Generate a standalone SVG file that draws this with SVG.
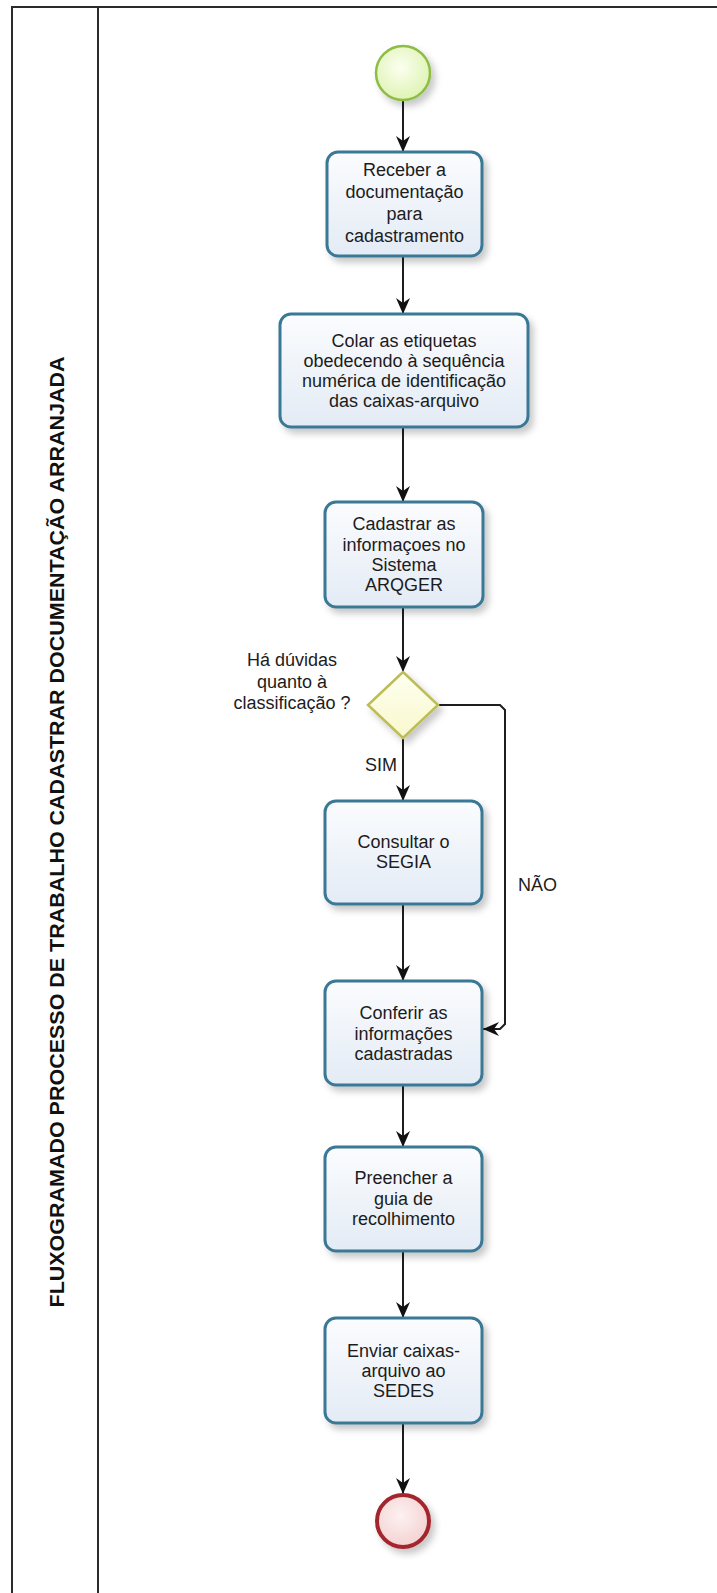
<svg xmlns="http://www.w3.org/2000/svg" width="717" height="1593" viewBox="0 0 717 1593">
  <defs>
    <style>
      .frame { fill: none; stroke: #2b2b2b; stroke-width: 2; }
      .task { stroke: #3a7895; stroke-width: 3; filter: url(#shadow); }
      .lbl { font-family: "Liberation Sans", Arial, sans-serif; font-size: 18px; fill: #1c1c1c; text-anchor: middle; }
      .note { font-family: "Liberation Sans", Arial, sans-serif; font-size: 18px; fill: #1c1c1c; }
      .title { font-family: "Liberation Sans", Arial, sans-serif; font-size: 20px; font-weight: bold; fill: #111; text-anchor: middle; }
      .flow { fill: none; stroke: #1e1e1e; stroke-width: 2; marker-end: url(#arrow); }
    </style>
    <linearGradient id="taskFill" x1="0" y1="0" x2="0" y2="1">
      <stop offset="0" stop-color="#fbfcfe"/>
      <stop offset="1" stop-color="#e3ebf5"/>
    </linearGradient>
    <radialGradient id="startFill" cx="0.45" cy="0.4" r="0.6">
      <stop offset="0" stop-color="#fbfff0"/>
      <stop offset="1" stop-color="#dff3b4"/>
    </radialGradient>
    <radialGradient id="endFill" cx="0.45" cy="0.4" r="0.6">
      <stop offset="0" stop-color="#fdf1f1"/>
      <stop offset="1" stop-color="#f4d2d2"/>
    </radialGradient>
    <linearGradient id="gateFill" x1="0" y1="0" x2="0" y2="1">
      <stop offset="0" stop-color="#fefff0"/>
      <stop offset="1" stop-color="#f8f8cc"/>
    </linearGradient>
    <filter id="shadow" x="-20%" y="-20%" width="150%" height="150%">
      <feDropShadow dx="4" dy="5" stdDeviation="3.5" flood-color="#000" flood-opacity="0.22"/>
    </filter>
    <marker id="arrow" markerUnits="userSpaceOnUse" markerWidth="17" markerHeight="15" refX="16" refY="7" orient="auto">
      <path d="M0,0 L16,7 L0,14 L5,7 z" fill="#111"/>
    </marker>
  </defs>

  <rect x="0" y="0" width="717" height="1593" fill="#fff"/>

  <!-- pool frame -->
  <g id="pool">
    <path class="frame" d="M12,1593 V7 H717"/>
    <path class="frame" d="M98,7 V1593"/>
    <text class="title" transform="translate(64,832) rotate(-90)" textLength="951" lengthAdjust="spacingAndGlyphs">FLUXOGRAMADO PROCESSO DE TRABALHO CADASTRAR DOCUMENTAÇÃO ARRANJADA</text>
  </g>

  <!-- sequence flows -->
  <g id="connectors">
    <path class="flow" d="M403,100 V152"/>
    <path class="flow" d="M403,256 V314"/>
    <path class="flow" d="M403,427 V502"/>
    <path class="flow" d="M403,607 V672"/>
    <path class="flow" d="M403,738 V801"/>
    <path class="flow" d="M403,904 V981"/>
    <path class="flow" d="M403,1085 V1147"/>
    <path class="flow" d="M403,1251 V1318"/>
    <path class="flow" d="M403,1423 V1494"/>
    <path class="flow" d="M438,705 H500 L505,710 V1024 L500,1029 H483"/>
    <text class="note" x="365" y="771">SIM</text>
    <text class="note" x="518" y="891">NÃO</text>
  </g>

  <g id="start">
    <circle cx="403" cy="73" r="27" fill="url(#startFill)" stroke="#8dbd45" stroke-width="2.5" filter="url(#shadow)"/>
  </g>

  <g id="receber">
    <rect class="task" x="327" y="152" width="155" height="104" rx="11" fill="url(#taskFill)"/>
    <text class="lbl" x="404.5" y="176">Receber a</text>
    <text class="lbl" x="404.5" y="198">documentação</text>
    <text class="lbl" x="404.5" y="220">para</text>
    <text class="lbl" x="404.5" y="242">cadastramento</text>
  </g>

  <g id="colar">
    <rect class="task" x="280" y="314" width="248" height="113" rx="11" fill="url(#taskFill)"/>
    <text class="lbl" x="404" y="347">Colar as etiquetas</text>
    <text class="lbl" x="404" y="367">obedecendo à sequência</text>
    <text class="lbl" x="404" y="387">numérica de identificação</text>
    <text class="lbl" x="404" y="407">das caixas-arquivo</text>
  </g>

  <g id="cadastrar">
    <rect class="task" x="325" y="502" width="158" height="105" rx="11" fill="url(#taskFill)"/>
    <text class="lbl" x="404" y="530">Cadastrar as</text>
    <text class="lbl" x="404" y="551">informaçoes no</text>
    <text class="lbl" x="404" y="571">Sistema</text>
    <text class="lbl" x="404" y="591">ARQGER</text>
  </g>

  <g id="gateway">
    <path d="M403,672 L438,705 L403,738 L368,705 z" fill="url(#gateFill)" stroke="#bdbd55" stroke-width="2.5" filter="url(#shadow)"/>
    <text class="lbl" x="292" y="666">Há dúvidas</text>
    <text class="lbl" x="292" y="688">quanto à</text>
    <text class="lbl" x="292" y="709">classificação ?</text>
  </g>

  <g id="consultar">
    <rect class="task" x="325" y="801" width="157" height="103" rx="11" fill="url(#taskFill)"/>
    <text class="lbl" x="403.5" y="848">Consultar o</text>
    <text class="lbl" x="403.5" y="868">SEGIA</text>
  </g>

  <g id="conferir">
    <rect class="task" x="325" y="981" width="157" height="104" rx="11" fill="url(#taskFill)"/>
    <text class="lbl" x="403.5" y="1019">Conferir as</text>
    <text class="lbl" x="403.5" y="1039.5">informações</text>
    <text class="lbl" x="403.5" y="1060">cadastradas</text>
  </g>

  <g id="preencher">
    <rect class="task" x="325" y="1147" width="157" height="104" rx="11" fill="url(#taskFill)"/>
    <text class="lbl" x="403.5" y="1184">Preencher a</text>
    <text class="lbl" x="403.5" y="1204.5">guia de</text>
    <text class="lbl" x="403.5" y="1225">recolhimento</text>
  </g>

  <g id="enviar">
    <rect class="task" x="325" y="1318" width="157" height="105" rx="11" fill="url(#taskFill)"/>
    <text class="lbl" x="403.5" y="1357">Enviar caixas-</text>
    <text class="lbl" x="403.5" y="1377">arquivo ao</text>
    <text class="lbl" x="403.5" y="1397">SEDES</text>
  </g>

  <g id="end">
    <circle cx="403" cy="1521" r="26" fill="url(#endFill)" stroke="#a3262d" stroke-width="4" filter="url(#shadow)"/>
  </g>
</svg>
